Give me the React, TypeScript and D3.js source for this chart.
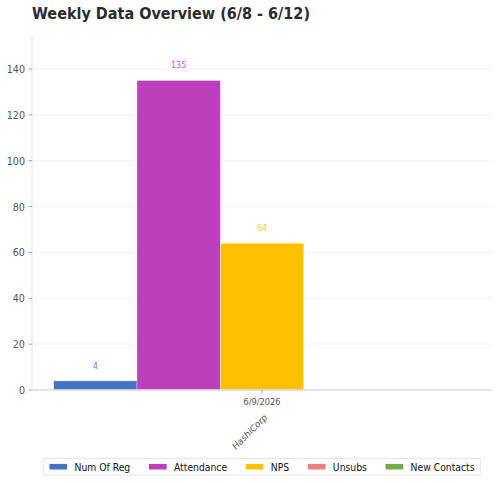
import { useEffect, useRef } from 'react';
import * as d3 from 'd3';

const title = 'Weekly Data Overview (6/8 - 6/12)';
const dates = ['6/9/2026'];
const companies = ['HashiCorp'];
const seriesNames = ['Num Of Reg', 'Attendance', 'NPS', 'Unsubs', 'New Contacts'];
const seriesColors = ['#4472C4', '#BC40BC', '#FFC000', '#F08080', '#70AD47'];
const labelColors = ['#5B86D6', '#D055D0', '#FFC532', '#F08080', '#70AD47'];
const values = [[4], [135], [64], [0], [0]];
const yTicks = [0, 20, 40, 60, 80, 100, 120, 140];

export default function App() {
  const ref = useRef<SVGSVGElement>(null);

  useEffect(() => {
    if (!ref.current) return;
    const svg = d3.select(ref.current);
    svg.selectAll('*').remove();

    // the picture is squeezed horizontally, so draw in a wider box and squash it
    const squeeze = 0.874;
    const width = 500 / squeeze;
    const height = 483;
    const margin = { top: 34, right: 8 / squeeze, bottom: 93, left: 32 / squeeze };
    const font = 'DejaVu Sans, sans-serif';

    svg
      .attr('width', 500)
      .attr('height', height)
      .attr('viewBox', `0 0 ${width} ${height}`)
      .attr('preserveAspectRatio', 'none');

    const x0 = d3.scaleBand()
      .domain(dates)
      .range([margin.left, width - margin.right])
      .paddingInner(0)
      .paddingOuter(0.052);

    const x1 = d3.scaleBand()
      .domain(seriesNames)
      .range([0, x0.bandwidth()])
      .padding(0);

    const y = d3.scaleLinear()
      .domain([0, 135 * 1.15])
      .range([height - margin.bottom, margin.top]);

    // grid
    svg.append('g')
      .selectAll('line')
      .data(yTicks)
      .join('line')
      .attr('x1', margin.left)
      .attr('x2', width - margin.right)
      .attr('y1', d => y(d))
      .attr('y2', d => y(d))
      .attr('stroke', '#f1f1f1')
      .attr('stroke-width', 1);

    // bars
    dates.forEach((date, di) => {
      const g = svg.append('g').attr('transform', `translate(${x0(date)},0)`);
      seriesNames.forEach((name, si) => {
        const v = values[si][di];
        g.append('rect')
          .attr('x', x1(name)!)
          .attr('width', x1.bandwidth())
          .attr('y', y(v))
          .attr('height', y(0) - y(v))
          .attr('fill', seriesColors[si])
          .attr('stroke', 'rgba(255,255,255,0.5)')
          .attr('stroke-width', 0.8);
        if (v > 0) {
          g.append('text')
            .attr('x', x1(name)! + x1.bandwidth() / 2)
            .attr('y', y(v) - 12.3)
            .attr('text-anchor', 'middle')
            .style('font-family', font)
            .style('font-size', '9.2px')
            .style('fill', labelColors[si])
            .text(v);
        }
      });
    });

    // spines
    svg.append('line')
      .attr('x1', margin.left).attr('x2', margin.left)
      .attr('y1', margin.top).attr('y2', y(0))
      .attr('stroke', '#e6e6e6').attr('stroke-width', 1.2);
    svg.append('line')
      .attr('x1', margin.left).attr('x2', width - margin.right)
      .attr('y1', y(0)).attr('y2', y(0))
      .attr('stroke', '#dddddd').attr('stroke-width', 1.5);

    // y axis
    const yAxis = svg.append('g');
    yTicks.forEach(t => {
      yAxis.append('line')
        .attr('x1', margin.left - 4).attr('x2', margin.left)
        .attr('y1', y(t)).attr('y2', y(t))
        .attr('stroke', '#888').attr('stroke-width', 0.8);
      yAxis.append('text')
        .attr('x', margin.left - 8)
        .attr('y', y(t))
        .attr('dy', '0.36em')
        .attr('text-anchor', 'end')
        .style('font-family', font)
        .style('font-size', '11px')
        .style('fill', '#555')
        .text(t);
    });

    // x axis
    dates.forEach((date, di) => {
      const cx = x0(date)! + x0.bandwidth() / 2;
      svg.append('line')
        .attr('x1', cx).attr('x2', cx)
        .attr('y1', y(0)).attr('y2', y(0) + 3.5)
        .attr('stroke', '#888').attr('stroke-width', 0.8);
      svg.append('text')
        .attr('x', cx)
        .attr('y', y(0) + 15)
        .attr('text-anchor', 'middle')
        .style('font-family', font)
        .style('font-size', '9.5px')
        .style('fill', '#555')
        .text(date);
      svg.append('text')
        .attr('transform', `translate(${cx + 2},${y(0) + 23}) rotate(-41.2)`)
        .attr('text-anchor', 'end')
        .attr('dy', '0.72em')
        .style('font-family', font)
        .style('font-size', '9.5px')
        .style('fill', '#555')
        .text(companies[di]);
    });

    // title
    svg.append('text')
      .attr('x', margin.left)
      .attr('y', 19.5)
      .style('font-family', font)
      .style('font-size', '16.5px')
      .style('font-weight', 'bold')
      .style('fill', '#2b2b2b')
      .text(title);

    // legend
    const fs = 10.6;
    const handle = 20.2;
    const handlePad = 8.4;
    const colGap = 21.4;
    const legend = svg.append('g');
    const box = legend.append('rect')
      .attr('fill', 'white')
      .attr('stroke', '#dddddd')
      .attr('stroke-width', 0.8);
    let cursor = 0;
    const ly = 466.7;
    seriesNames.forEach((name, si) => {
      legend.append('rect')
        .attr('x', cursor)
        .attr('y', ly - 2.8)
        .attr('width', handle)
        .attr('height', 5.6)
        .attr('fill', seriesColors[si]);
      const t = legend.append('text')
        .attr('x', cursor + handle + handlePad)
        .attr('y', ly)
        .attr('dy', '0.36em')
        .style('font-family', font)
        .style('font-size', `${fs}px`)
        .style('fill', '#111')
        .text(name);
      const w = (t.node() as SVGTextElement).getComputedTextLength();
      cursor += handle + handlePad + w + (si < seriesNames.length - 1 ? colGap : 0);
    });
    const legendCenter = margin.left + (width - margin.left - margin.right) / 2;
    const lx = legendCenter - cursor / 2;
    legend.attr('transform', `translate(${lx},0)`);
    box.attr('x', -6.5).attr('y', ly - 8.4).attr('width', cursor + 13).attr('height', 16.8);
  }, []);

  return (
    <svg ref={ref} style={{ position: 'absolute', left: 0, top: 0, display: 'block' }}></svg>
  );
}
